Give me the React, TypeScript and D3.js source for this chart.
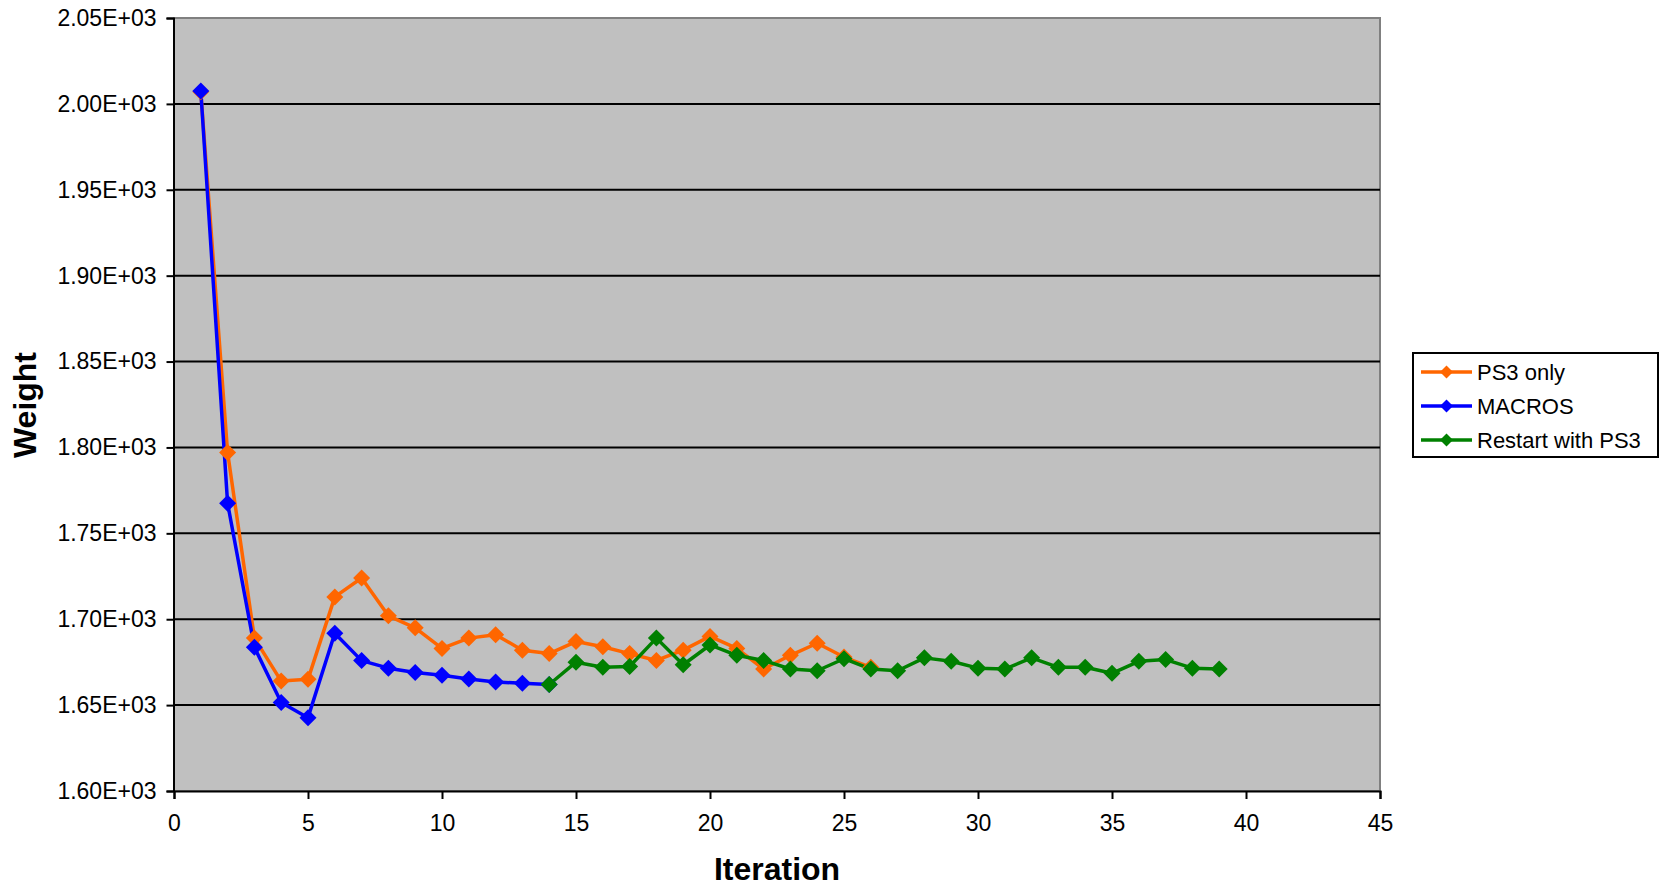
import { useEffect, useRef } from "react"
import * as d3 from "d3"

// Series data
const ps3OnlyIter = [1, 2, 3, 4, 5, 6, 7, 8, 9, 10, 11, 12, 13, 14, 15, 16, 17, 18, 19, 20, 21, 22, 23, 24, 25, 26]
const ps3OnlyWeight = [
  2007, 1797, 1689, 1664, 1665, 1713, 1724, 1702, 1695, 1683, 1689, 1691, 1682, 1680, 1687, 1684, 1680, 1676,
  1682, 1690, 1683, 1671, 1679, 1686, 1678, 1672,
]

const macrosIter = [1, 2, 3, 4, 5, 6, 7, 8, 9, 10, 11, 12, 13, 14]
const macrosWeight = [2007.5, 1767.5, 1683.7, 1651.5, 1642.7, 1691.8, 1675.9, 1671.5, 1669, 1667.4, 1665.2, 1663.5, 1662.7, 1662]

const restartIter = [14, 15, 16, 17, 18, 19, 20, 21, 22, 23, 24, 25, 26, 27, 28, 29, 30, 31, 32, 33, 34, 35, 36, 37, 38, 39]
const restartWeight = [
  1662, 1675, 1672, 1672.5, 1689, 1673.5, 1685, 1679, 1676, 1671, 1670, 1677, 1671, 1670, 1677.5, 1675.5, 1671.5,
  1671, 1677.5, 1672, 1672, 1668.5, 1675.5, 1676.5, 1671.5, 1671,
]

const seriesNames = ["PS3 only", "MACROS", "Restart with PS3"]
const seriesColors = ["#FF6600", "#0000FF", "#008000"]

const xTicks = [0, 5, 10, 15, 20, 25, 30, 35, 40, 45]
const yTicks = [1600, 1650, 1700, 1750, 1800, 1850, 1900, 1950, 2000, 2050]
const yTickLabels = [
  "1.60E+03", "1.65E+03", "1.70E+03", "1.75E+03", "1.80E+03",
  "1.85E+03", "1.90E+03", "1.95E+03", "2.00E+03", "2.05E+03",
]

const FONT = "'Liberation Sans', Arial, sans-serif"

export default function App() {
  const svgRef = useRef<SVGSVGElement>(null)

  useEffect(() => {
    if (!svgRef.current) return
    d3.select(svgRef.current).selectAll("*").remove()

    const W = 1667
    const H = 887
    const plot = { left: 174, right: 1380, top: 18, bottom: 791 }

    const svg = d3.select(svgRef.current).attr("width", W).attr("height", H)

    const x = d3.scaleLinear().domain([0, 45]).range([plot.left, plot.right])
    const y = d3.scaleLinear().domain([1600, 2050]).range([plot.bottom, plot.top])

    // Plot area
    svg
      .append("rect")
      .attr("x", plot.left)
      .attr("y", plot.top)
      .attr("width", plot.right - plot.left)
      .attr("height", plot.bottom - plot.top)
      .attr("fill", "#C0C0C0")
      .attr("stroke", "#808080")
      .attr("stroke-width", 2)

    // Horizontal grid lines
    svg
      .append("g")
      .selectAll("line")
      .data(yTicks.filter((d) => d > 1600 && d < 2050))
      .enter()
      .append("line")
      .attr("x1", plot.left)
      .attr("x2", plot.right)
      .attr("y1", (d) => y(d))
      .attr("y2", (d) => y(d))
      .attr("stroke", "#000")
      .attr("stroke-width", 2)

    // Y axis
    const yAxis = svg
      .append("g")
      .attr("transform", `translate(${plot.left - 0.5},0)`)
      .call(
        d3
          .axisLeft(y)
          .tickValues(yTicks)
          .tickSize(7)
          .tickPadding(10)
          .tickFormat((_, i) => yTickLabels[i]),
      )
    yAxis.select(".domain").attr("stroke", "#000").attr("stroke-width", 2)
    yAxis.selectAll("line").attr("stroke", "#000").attr("stroke-width", 2)
    yAxis
      .selectAll("text")
      .attr("font-family", FONT)
      .attr("font-size", "23px")
      .attr("fill", "#000")

    // X axis
    const xAxis = svg
      .append("g")
      .attr("transform", `translate(0,${plot.bottom})`)
      .call(d3.axisBottom(x).tickValues(xTicks).tickSize(8).tickPadding(16).tickFormat(d3.format("d")))
    xAxis.select(".domain").attr("stroke", "#000").attr("stroke-width", 2)
    xAxis.selectAll("line").attr("stroke", "#000").attr("stroke-width", 2)
    xAxis
      .selectAll("text")
      .attr("font-family", FONT)
      .attr("font-size", "23px")
      .attr("fill", "#000")

    // Series
    const series = [
      { xs: ps3OnlyIter, ys: ps3OnlyWeight },
      { xs: macrosIter, ys: macrosWeight },
      { xs: restartIter, ys: restartWeight },
    ]

    const line = d3
      .line<[number, number]>()
      .x((d) => x(d[0]))
      .y((d) => y(d[1]))

    const diamond = (cx: number, cy: number, hw: number, hh: number) =>
      `M${cx},${cy - hh}L${cx + hw},${cy}L${cx},${cy + hh}L${cx - hw},${cy}Z`

    // lines first, then markers
    series.forEach((s, i) => {
      const pts = s.xs.map((v, j) => [v, s.ys[j]] as [number, number])
      svg
        .append("path")
        .attr("d", line(pts))
        .attr("fill", "none")
        .attr("stroke", seriesColors[i])
        .attr("stroke-width", 3.5)
        .attr("stroke-linejoin", "round")
    })

    series.forEach((s, i) => {
      const pts = s.xs.map((v, j) => [v, s.ys[j]] as [number, number])
      svg
        .append("g")
        .selectAll("path")
        .data(pts)
        .enter()
        .append("path")
        .attr("d", (d) => diamond(x(d[0]), y(d[1]), 8.5, 8.5))
        .attr("fill", seriesColors[i])
    })

    // Axis titles
    svg
      .append("text")
      .attr("x", (plot.left + plot.right) / 2)
      .attr("y", 880)
      .attr("text-anchor", "middle")
      .attr("font-family", FONT)
      .attr("font-size", "32px")
      .attr("font-weight", "bold")
      .text("Iteration")

    svg
      .append("text")
      .attr("transform", `translate(36,405) rotate(-90)`)
      .attr("text-anchor", "middle")
      .attr("font-family", FONT)
      .attr("font-size", "32px")
      .attr("font-weight", "bold")
      .text("Weight")

    // Legend
    const legend = svg.append("g")
    legend
      .append("rect")
      .attr("x", 1413)
      .attr("y", 353)
      .attr("width", 245)
      .attr("height", 104)
      .attr("fill", "#fff")
      .attr("stroke", "#000")
      .attr("stroke-width", 2)

    const rowY = d3.scalePoint<string>().domain(seriesNames).range([372, 440])
    seriesNames.forEach((name, i) => {
      const ry = rowY(name) || 0
      legend
        .append("line")
        .attr("x1", 1421)
        .attr("x2", 1472)
        .attr("y1", ry)
        .attr("y2", ry)
        .attr("stroke", seriesColors[i])
        .attr("stroke-width", 3.5)
      legend
        .append("path")
        .attr("d", diamond(1446.5, ry, 6.5, 6.5))
        .attr("fill", seriesColors[i])
      legend
        .append("text")
        .attr("x", 1477)
        .attr("y", ry)
        .attr("dy", "0.35em")
        .attr("font-family", FONT)
        .attr("font-size", "22px")
        .attr("fill", "#000")
        .text(name)
    })
  }, [])

  return (
    <svg
      ref={svgRef}
      style={{ position: "absolute", left: 0, top: 0, background: "#fff" }}
    ></svg>
  )
}
